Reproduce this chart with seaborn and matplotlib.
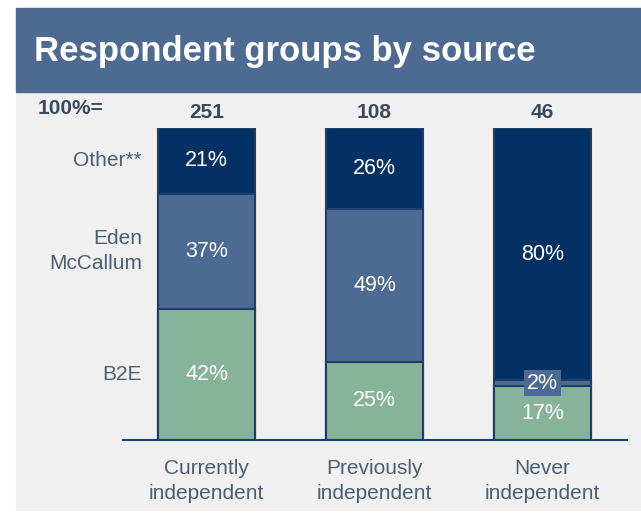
import matplotlib.pyplot as plt
import matplotlib.patches as mpatches
import pandas as pd
import seaborn as sns

GROUPS = ["Currently\nindependent", "Previously\nindependent", "Never\nindependent"]
TOTALS = ["251", "108", "46"]
SOURCES = ["B2E", "Eden\nMcCallum", "Other**"]
B2E = [42, 25, 17]
EDEN = [37, 49, 2]
OTHER = [21, 26, 80]

COLORS = {"B2E": "#86b39a", "Eden\nMcCallum": "#4d6a93", "Other**": "#043163"}
EDGE = "#1f3f6b"
TEXT = "#4a5f72"
PANEL = "#f0f0f0"


def build_frame() -> pd.DataFrame:
    df = pd.DataFrame({"group": GROUPS, "B2E": B2E, "Eden\nMcCallum": EDEN, "Other**": OTHER})
    # stacked shares rescaled so every bar fills 100% (rounded labels may not add up)
    total = df[["B2E", "Eden\nMcCallum", "Other**"]].sum(axis=1)
    df["b2e_top"] = df["B2E"] / total * 100
    df["eden_top"] = (df["B2E"] + df["Eden\nMcCallum"]) / total * 100
    df["other_top"] = 100.0
    return df


def main() -> None:
    sns.set_style("white")
    plt.rcParams["font.family"] = ["Liberation Sans", "DejaVu Sans"]

    df = build_frame()
    fig = plt.figure(figsize=(6.41, 5.15), dpi=100)
    fig.patch.set_facecolor("white")

    # grey panel and blue title band (pixel coords converted to figure fraction)
    W, H = 641, 515
    fig.patches.append(mpatches.Rectangle((16 / W, (H - 510) / H), 1, (510 - 8) / H,
                                          transform=fig.transFigure, color=PANEL, zorder=-10))
    fig.patches.append(mpatches.Rectangle((16 / W, (H - 92) / H), 1, (92 - 8) / H,
                                          transform=fig.transFigure, color="#4d6a93", zorder=-9))
    fig.text(34 / W, (H - 51) / H, "Respondent groups by source", color="white",
             fontsize=25, fontweight="bold", va="center", ha="left")

    ax = fig.add_axes([122.5 / W, (H - 440) / H, 504 / W, 312 / H])
    ax.set_facecolor("none")

    # stacked bars: draw cumulative tops from highest down
    for col, src in [("other_top", "Other**"), ("eden_top", "Eden\nMcCallum"), ("b2e_top", "B2E")]:
        sns.barplot(data=df, x="group", y=col, color=COLORS[src], width=0.577,
                    edgecolor=EDGE, linewidth=1.5, saturation=1, ax=ax)

    ax.set_xlim(-0.5, 2.5)
    ax.set_ylim(0, 100)
    ax.set_ylabel("")
    ax.set_xlabel("")
    ax.set_yticks([])
    sns.despine(ax=ax, left=True, top=True, right=True)
    ax.spines["bottom"].set_color(EDGE)
    ax.spines["bottom"].set_linewidth(1.5)
    ax.tick_params(axis="x", length=0, pad=14, labelsize=15)
    for lbl in ax.get_xticklabels():
        lbl.set_color(TEXT)
        lbl.set_linespacing(1.4)

    # segment labels
    for i, row in df.iterrows():
        bottoms = [0, row["b2e_top"], row["eden_top"]]
        tops = [row["b2e_top"], row["eden_top"], row["other_top"]]
        vals = [B2E[i], EDEN[i], OTHER[i]]
        for b, t, v in zip(bottoms, tops, vals):
            y = (b + t) / 2
            if v < 5:
                ax.text(i, y, f"{v}%", ha="center", va="center", color="white", fontsize=15.5,
                        bbox=dict(boxstyle="square,pad=0.12", fc="#4d6a93", ec="none"), zorder=5)
            else:
                ax.text(i, y, f"{v}%", ha="center", va="center", color="white", fontsize=15.5, zorder=5)
        ax.text(i, 105, TOTALS[i], ha="center", va="center", color="#3a4a5a",
                fontsize=15, fontweight="bold", clip_on=False)

    # source labels next to first bar
    bottoms = [0, df.loc[0, "b2e_top"], df.loc[0, "eden_top"]]
    tops = [df.loc[0, "b2e_top"], df.loc[0, "eden_top"], 100]
    for src, b, t in zip(SOURCES, bottoms, tops):
        ax.text(-0.384, (b + t) / 2, src, ha="right", va="center", color=TEXT,
                fontsize=15, linespacing=1.4)
    fig.text(38 / W, (H - 109) / H, "100%=", color="#3a4a5a", fontsize=15,
             fontweight="bold", ha="left", va="center")

    fig.savefig("out.png", dpi=100)


main()
